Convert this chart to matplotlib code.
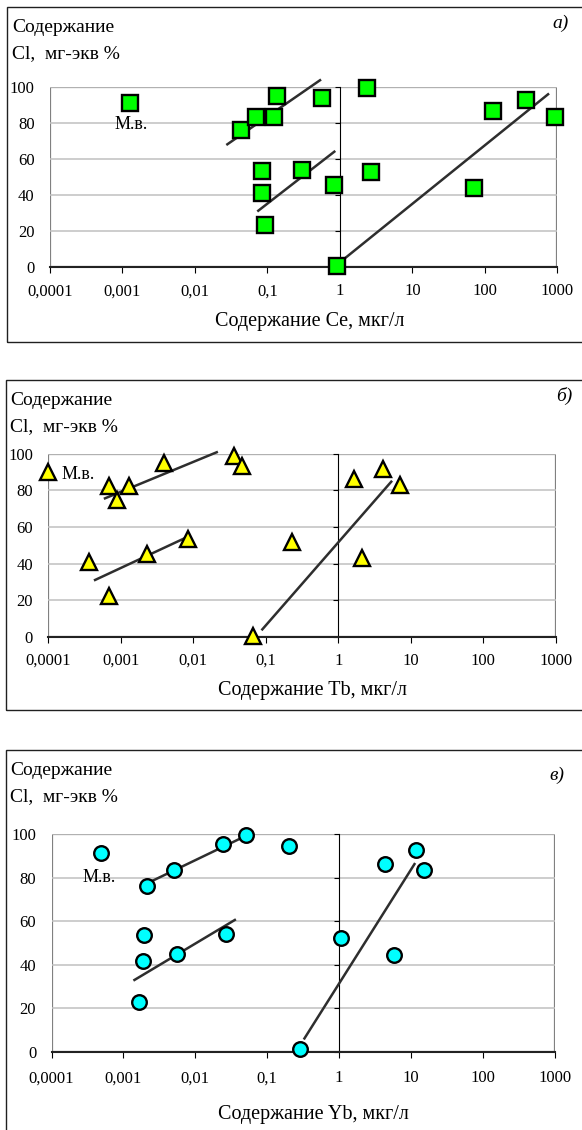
import matplotlib
matplotlib.use("Agg")
import matplotlib.pyplot as plt
from matplotlib.patches import Rectangle
from matplotlib.ticker import NullLocator

plt.rcParams['font.family'] = ['Liberation Serif', 'DejaVu Serif']

W, H = 582, 1130

# shared axes
x_ticks = [1e-4, 1e-3, 1e-2, 1e-1, 1, 10, 100, 1000]
x_tick_labels = ['0,0001', '0,001', '0,01', '0,1', '1', '10', '100', '1000']
y_ticks = [0, 20, 40, 60, 80, 100]

# panel a) Ce
ce_x = [0.00126, 0.0428, 0.0697, 0.123, 0.137, 0.566, 2.34, 0.0834, 0.0834, 0.0927,
        0.297, 0.838, 0.904, 2.72, 70, 129, 365, 930]
ce_y = [91, 76, 83, 83, 95, 94, 99.4, 53, 41, 23, 53.7, 45.4, 0.5, 52.4, 43.5, 86.7, 92.6, 83]
ce_trend_x = [[0.028, 0.532], [0.0748, 0.838], [1.094, 746]]
ce_trend_y = [[68, 103.6], [31.1, 63.9], [3.7, 95.8]]
ce_mv = (0.00078, 79)

# panel б) Tb
tb_x = [0.0001, 0.00069, 0.00131, 0.0009, 0.004, 0.0365, 0.0467, 0.00037, 0.00069,
        0.00233, 0.00855, 0.0675, 0.229, 1.65, 4.15, 7.05, 2.12]
tb_y = [90, 82.3, 82.3, 74.7, 94.7, 98.7, 93.3, 40.6, 22.4, 45, 53.2, 0.4, 51.9, 86, 91.5, 82.9, 43.2]
tb_trend_x = [[0.000607, 0.0211], [0.000443, 0.00883], [0.0897, 5.38]]
tb_trend_y = [[75.6, 100.8], [31, 55], [4, 84.7]]
tb_mv = (0.000155, 88.4)

# panel в) Yb
yb_x = [0.00049, 0.00216, 0.005, 0.024, 0.0508, 0.2, 0.00192, 0.00185, 0.00166,
        0.0055, 0.0264, 0.286, 1.08, 4.3, 11.7, 15.1, 5.8]
yb_y = [91.3, 76.4, 83.4, 95.7, 99.7, 94.8, 53.7, 41.7, 23, 45.1, 54.3, 1.2, 52.1, 86.3, 92.8, 83.4, 44.5]
yb_trend_x = [[0.00216, 0.063], [0.001426, 0.0355], [0.33, 11.2]]
yb_trend_y = [[77.5, 100.8], [33, 60.6], [6.1, 86.3]]
yb_mv = (0.00027, 80)

panels = [
    dict(x=ce_x, y=ce_y, tx=ce_trend_x, ty=ce_trend_y, mv=ce_mv, el='Ce', tag='а)',
         marker='s', ms=12, color='#00ff00', xpad=8,
         plot=(50, 86.7, 557.3, 266.7), frame=(7, 7.3, 600, 341.7),
         ylab=(12, 32.3), tagpos=(552, 28), xlab=(310, 321.7)),
    dict(x=tb_x, y=tb_y, tx=tb_trend_x, ty=tb_trend_y, mv=tb_mv, el='Tb', tag='б)',
         marker='^', ms=11.5, color='#ffff00', xpad=7.5,
         plot=(48.2, 453.7, 555.8, 636.7), frame=(6, 380, 600, 710),
         ylab=(10, 405), tagpos=(556, 401), xlab=(313, 691)),
    dict(x=yb_x, y=yb_y, tx=yb_trend_x, ty=yb_trend_y, mv=yb_mv, el='Yb', tag='в)',
         marker='o', ms=10.5, color='#00ffff', xpad=9.5,
         plot=(51.5, 834.3, 554.7, 1051.7), frame=(6, 750, 600, 1150),
         ylab=(10, 775), tagpos=(549, 780), xlab=(313, 1115)),
]

fig = plt.figure(figsize=(W / 100, H / 100), dpi=100)

for p in panels:
    l, t, r, b = p['frame']
    fig.add_artist(Rectangle((l / W, 1 - b / H), (r - l) / W, (b - t) / H,
                             transform=fig.transFigure, fill=False, lw=1, ec='#202020'))
    l, t, r, b = p['plot']
    ax = fig.add_axes([l / W, 1 - b / H, (r - l) / W, (b - t) / H])
    ax.set_xscale('log')
    ax.set_xlim(1e-4, 1e3)
    ax.set_ylim(0, 100)
    ax.set_xticks(x_ticks)
    ax.set_xticklabels(x_tick_labels)
    ax.xaxis.set_minor_locator(NullLocator())
    ax.set_yticks(y_ticks)
    ax.yaxis.grid(True, color='#c0c0c0', lw=1.1)
    ax.set_axisbelow(True)

    ax.spines['left'].set_visible(False)
    ax.spines['top'].set_visible(False)
    ax.spines['right'].set_position(('data', 1))
    ax.spines['right'].set_color('black')
    ax.spines['right'].set_linewidth(0.8)
    ax.spines['bottom'].set_color('#222222')
    ax.spines['bottom'].set_linewidth(1.5)
    ax.add_patch(Rectangle((0, 0), 1, 1, transform=ax.transAxes, fill=False,
                           ec='#808080', lw=1.6, zorder=0.5))

    ax.tick_params(axis='y', left=False, right=True, labelleft=True, labelright=False,
                   direction='in', length=3.5, width=0.8, pad=11, labelsize=12)
    ax.tick_params(axis='x', direction='out', length=4, width=0.8, pad=p['xpad'],
                   labelsize=12)

    for tx, ty in zip(p['tx'], p['ty']):
        ax.plot(tx, ty, color='#2e2e2e', lw=1.8, clip_on=False, zorder=3)
    ax.plot(p['x'], p['y'], ls='none', marker=p['marker'], ms=p['ms'], mfc=p['color'],
            mec='black', mew=1.7, clip_on=False, zorder=4)
    ax.text(p['mv'][0], p['mv'][1], 'М.в.', fontsize=13, ha='left', va='center')

    x0, y0 = p['ylab']
    fig.text(x0 / W, 1 - y0 / H, 'Содержание', fontsize=14, va='baseline')
    fig.text(x0 / W, 1 - (y0 + 26) / H, 'Cl,  мг-экв %', fontsize=14, va='baseline')
    x0, y0 = p['tagpos']
    fig.text(x0 / W, 1 - y0 / H, p['tag'], fontsize=14, style='italic', va='baseline')
    x0, y0 = p['xlab']
    fig.text(x0 / W, 1 - y0 / H, 'Содержание %s, мкг/л' % p['el'], fontsize=14.5,
             ha='center', va='center')

fig.savefig('out.png', dpi=100)
